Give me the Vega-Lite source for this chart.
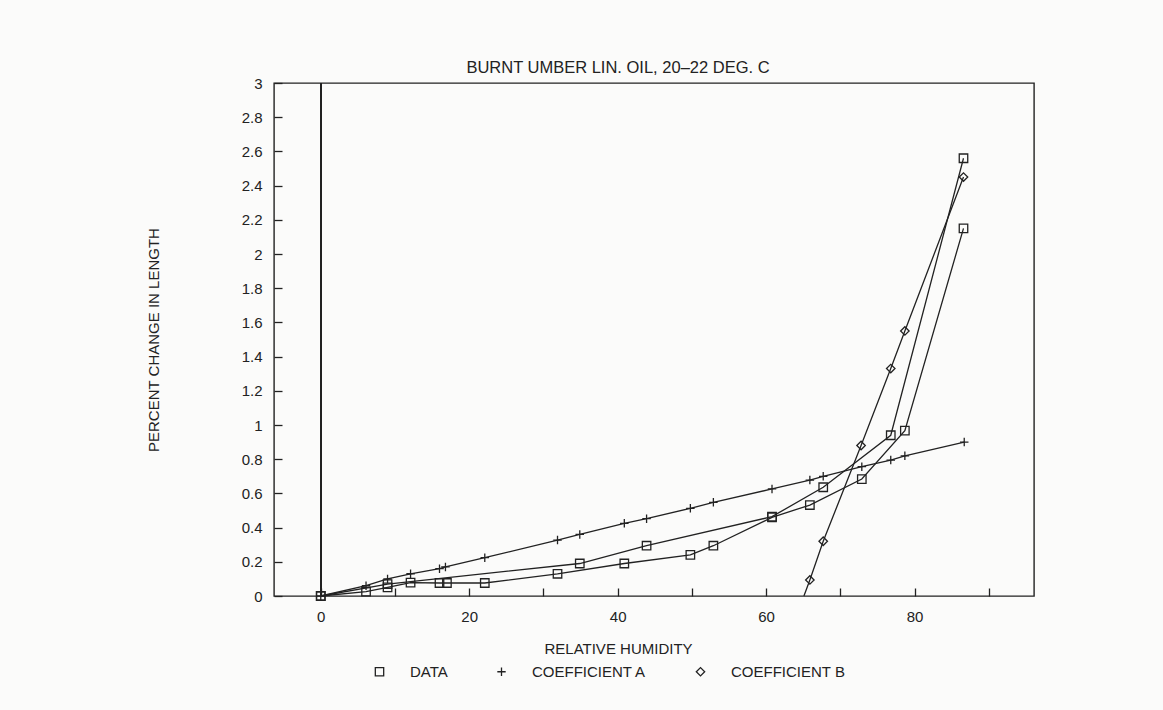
{
  "$schema": "https://vega.github.io/schema/vega-lite/v6.json",
  "autosize": "none",
  "width": 760,
  "height": 513,
  "padding": {"left": 274, "top": 83, "right": 129, "bottom": 114},
  "background": "#fbfbfa",
  "config": {
    "font": "Liberation Sans",
    "view": {"stroke": "#222", "strokeWidth": 1.4},
    "axis": {"labelColor": "#222", "titleColor": "#222", "tickColor": "#222", "tickWidth": 1.3, "labelFontSize": 15, "titleFontSize": 15, "titleFontWeight": "normal", "grid": false, "domain": false}
  },
  "title": {"text": "BURNT UMBER LIN. OIL, 20–22 DEG. C", "fontSize": 16.5, "fontWeight": "normal", "color": "#222", "offset": 0, "dx": -36},
  "data": {"values": [
    {"series": "DATA", "path": "DATA 1", "rh": 0, "pct": 0},
    {"series": "DATA", "path": "DATA 1", "rh": 6.1, "pct": 0.025},
    {"series": "DATA", "path": "DATA 1", "rh": 9.0, "pct": 0.05},
    {"series": "DATA", "path": "DATA 1", "rh": 12.1, "pct": 0.078},
    {"series": "DATA", "path": "DATA 1", "rh": 16.0, "pct": 0.076},
    {"series": "DATA", "path": "DATA 1", "rh": 17.0, "pct": 0.076},
    {"series": "DATA", "path": "DATA 1", "rh": 22.1, "pct": 0.076},
    {"series": "DATA", "path": "DATA 1", "rh": 31.9, "pct": 0.13},
    {"series": "DATA", "path": "DATA 1", "rh": 40.9, "pct": 0.19},
    {"series": "DATA", "path": "DATA 1", "rh": 49.8, "pct": 0.24},
    {"series": "DATA", "path": "DATA 1", "rh": 52.9, "pct": 0.294},
    {"series": "DATA", "path": "DATA 1", "rh": 60.8, "pct": 0.46},
    {"series": "DATA", "path": "DATA 1", "rh": 65.9, "pct": 0.532},
    {"series": "DATA", "path": "DATA 1", "rh": 72.9, "pct": 0.684},
    {"series": "DATA", "path": "DATA 1", "rh": 78.7, "pct": 0.967},
    {"series": "DATA", "path": "DATA 1", "rh": 86.6, "pct": 2.15},
    {"series": "DATA", "path": "DATA 2", "rh": 0, "pct": 0},
    {"series": "DATA", "path": "DATA 2", "rh": 9.0, "pct": 0.07},
    {"series": "DATA", "path": "DATA 2", "rh": 34.9, "pct": 0.19},
    {"series": "DATA", "path": "DATA 2", "rh": 43.9, "pct": 0.294},
    {"series": "DATA", "path": "DATA 2", "rh": 60.8, "pct": 0.464},
    {"series": "DATA", "path": "DATA 2", "rh": 67.7, "pct": 0.636},
    {"series": "DATA", "path": "DATA 2", "rh": 76.8, "pct": 0.94},
    {"series": "DATA", "path": "DATA 2", "rh": 86.6, "pct": 2.56},
    {"series": "COEFFICIENT A", "path": "A", "rh": 0, "pct": 0},
    {"series": "COEFFICIENT A", "path": "A", "rh": 6.1, "pct": 0.06},
    {"series": "COEFFICIENT A", "path": "A", "rh": 9.0, "pct": 0.10},
    {"series": "COEFFICIENT A", "path": "A", "rh": 12.1, "pct": 0.13},
    {"series": "COEFFICIENT A", "path": "A", "rh": 16.0, "pct": 0.16},
    {"series": "COEFFICIENT A", "path": "A", "rh": 16.8, "pct": 0.17},
    {"series": "COEFFICIENT A", "path": "A", "rh": 22.1, "pct": 0.224},
    {"series": "COEFFICIENT A", "path": "A", "rh": 31.9, "pct": 0.327},
    {"series": "COEFFICIENT A", "path": "A", "rh": 34.9, "pct": 0.36},
    {"series": "COEFFICIENT A", "path": "A", "rh": 40.9, "pct": 0.425},
    {"series": "COEFFICIENT A", "path": "A", "rh": 43.9, "pct": 0.452},
    {"series": "COEFFICIENT A", "path": "A", "rh": 49.8, "pct": 0.513},
    {"series": "COEFFICIENT A", "path": "A", "rh": 52.9, "pct": 0.548},
    {"series": "COEFFICIENT A", "path": "A", "rh": 60.8, "pct": 0.626},
    {"series": "COEFFICIENT A", "path": "A", "rh": 65.9, "pct": 0.678},
    {"series": "COEFFICIENT A", "path": "A", "rh": 67.7, "pct": 0.70},
    {"series": "COEFFICIENT A", "path": "A", "rh": 72.9, "pct": 0.756},
    {"series": "COEFFICIENT A", "path": "A", "rh": 76.8, "pct": 0.795},
    {"series": "COEFFICIENT A", "path": "A", "rh": 78.7, "pct": 0.82},
    {"series": "COEFFICIENT A", "path": "A", "rh": 86.7, "pct": 0.90},
    {"series": "COEFFICIENT B", "path": "B", "rh": 65.1, "pct": 0},
    {"series": "COEFFICIENT B", "path": "B", "rh": 65.9, "pct": 0.094},
    {"series": "COEFFICIENT B", "path": "B", "rh": 67.7, "pct": 0.32},
    {"series": "COEFFICIENT B", "path": "B", "rh": 72.8, "pct": 0.88},
    {"series": "COEFFICIENT B", "path": "B", "rh": 76.8, "pct": 1.33},
    {"series": "COEFFICIENT B", "path": "B", "rh": 78.7, "pct": 1.55},
    {"series": "COEFFICIENT B", "path": "B", "rh": 86.6, "pct": 2.45}
  ]},
  "encoding": {
    "x": {"field": "rh", "type": "quantitative", "scale": {"domain": [-6.3, 96.1], "nice": false, "zero": false},
      "axis": {"title": "RELATIVE HUMIDITY", "values": [10, 20, 30, 40, 50, 60, 70, 80, 90, 0], "labelExpr": "datum.value % 20 == 0 ? datum.label : ''", "offset": -8, "tickSize": 8, "labelPadding": 13, "titlePadding": 17, "titleX": 344, "labelFlush": false}},
    "y": {"field": "pct", "type": "quantitative", "scale": {"domain": [0, 3], "nice": false},
      "axis": {"title": "PERCENT CHANGE IN LENGTH", "values": [0, 0.2, 0.4, 0.6, 0.8, 1, 1.2, 1.4, 1.6, 1.8, 2, 2.2, 2.4, 2.6, 2.8, 3], "format": "~g", "offset": -8, "tickSize": 8, "labelPadding": 12, "titlePadding": 80, "labelFlush": false}}
  },
  "layer": [
    {"mark": {"type": "rule", "color": "#222", "strokeWidth": 1.3}, "encoding": {"x": {"datum": 0}, "y": null}},
    {"mark": {"type": "line", "color": "#222", "strokeWidth": 1.3}, "encoding": {"detail": {"field": "path"}}},
    {"transform": [{"filter": "datum.series != 'COEFFICIENT B' || datum.pct > 0"}],
     "mark": {"type": "point", "filled": false, "color": "#222", "strokeWidth": 1.3, "opacity": 1, "size": 72},
     "encoding": {
       "shape": {"field": "series", "type": "nominal",
         "scale": {"domain": ["DATA", "COEFFICIENT A", "COEFFICIENT B"], "range": ["square", "M-1,0H1M0,-1V1", "diamond"]},
         "legend": {"title": null, "orient": "none", "direction": "horizontal", "legendX": 98, "legendY": 581, "labelFontSize": 15, "labelColor": "#222", "labelOffset": 23, "columnPadding": 46, "symbolSize": 70, "symbolStrokeWidth": 1.3, "symbolStrokeColor": "#222", "symbolFillColor": "transparent", "padding": 0}}
     }}
  ]
}
